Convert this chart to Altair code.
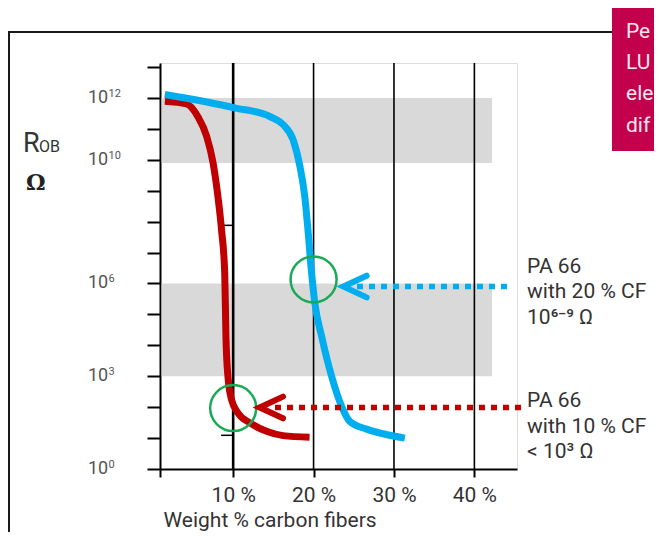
import altair as alt
import pandas as pd

# ---------------- data (x: weight % carbon fibers, e: log10 of R_OB in ohm) ----------------
red_x = [1.5, 4.2, 5.6, 6.7, 7.5, 8.1, 8.55, 8.95, 9.1, 9.35, 9.8, 10.6, 12.1, 14.15, 16.2, 19.5]
red_e = [11.89, 11.81, 11.40, 10.76, 9.90, 8.82, 7.74, 6.35, 4.29, 2.99, 2.24, 1.81, 1.49, 1.22, 1.08, 1.03]
blue_x = [1.5, 10.2, 14.55, 16.2, 17.45, 18.3, 18.9, 19.3, 19.75, 20.15, 21.0, 22.25, 23.5, 24.5, 26.6, 28.65, 31.35]
blue_e = [12.11, 11.68, 11.40, 11.14, 10.65, 9.79, 8.82, 7.74, 6.35, 5.38, 4.29, 2.99, 2.02, 1.54, 1.29, 1.14, 1.00]

band_x0 = 1.1
band_x1 = 42.2
band_lo = [9.9, 3.0]
band_hi = [12.0, 6.0]

grid_x = [10, 20, 30, 40]
x_tick_values = [0.9, 10, 20, 30, 40]
y_tick_values = list(range(0, 14))
y_label_e = [0, 3, 6, 10, 12]
y_label_sup = ["0", "3", "6", "10", "12"]

mini_e = [7.88, 1.09]
mini_x0 = 8.5
mini_x1 = 10.0

circle_x = [10, 20]
circle_e = [1.97, 6.13]

# arrows: [blue, red]
arrow_tip_x = [23.7, 13.3]
arrow_dot_start = [25.4, 15.2]
arrow_dot_end = [44.6, 46.0]
arrow_e = [5.9, 1.99]

note_x = 46.55
note_e = [6.34, 1.99]
note_blue = ["PA 66", "with 20 % CF", "10\u2076\u207b\u2079 \u03a9"]
note_red = ["PA 66", "with 10 % CF", "< 10\u00b3 \u03a9"]

box_lines = ["Pe", "LU", "ele", "dif"]
x_title = "Weight % carbon fibers"

RED = "#c00000"
BLUE = "#00aeef"
GREEN = "#1aaa55"
FONT = "Roboto"

# ---------------- scales / axes ----------------
xs = alt.Scale(domain=[0.9, 45.3], nice=False, zero=False)
ys = alt.Scale(domain=[0, 13.13], nice=False, zero=False)

x_axis = alt.Axis(values=x_tick_values,
                  labelExpr="datum.value < 5 ? '' : datum.value + ' %'",
                  tickSize=8, tickWidth=2, tickColor="black",
                  domainColor="black", domainWidth=2, grid=False,
                  labelFontSize=21, labelColor="#333", labelPadding=7, labelFont=FONT,
                  title=x_title, titleFontSize=21, titleFontWeight="normal", titleColor="#333",
                  titleFont=FONT, titleAnchor="start", titleAlign="left", titleX=3, titleY=57,
                  titleBaseline="alphabetic")
y_axis = alt.Axis(values=y_tick_values, labels=False, tickSize=13, tickWidth=2, tickColor="black",
                  domainColor="black", domainWidth=2, grid=False, title="")


def X(f):
    return alt.X(f"{f}:Q", scale=xs, axis=x_axis)


def Y(f):
    return alt.Y(f"{f}:Q", scale=ys, axis=y_axis)


one = alt.Data(values=[{"k": 0}])

layers = []

# gray bands
bands = pd.DataFrame({"x": [band_x0] * 2, "x2": [band_x1] * 2, "e": band_lo, "e2": band_hi})
layers.append(alt.Chart(bands).mark_rect(color="#d9d9d9").encode(x=X("x"), x2="x2", y=Y("e"), y2="e2"))

# vertical lines
grid = pd.DataFrame({"x": grid_x})
layers.append(alt.Chart(grid).mark_rule(color="black").encode(
    x=X("x"),
    strokeWidth=alt.condition("datum.x == 10", alt.value(2.6), alt.value(1.6))))

# small ticks beside the 10 % line
mini = pd.DataFrame({"x": [mini_x0] * 2, "x2": [mini_x1] * 2, "e": mini_e})
layers.append(alt.Chart(mini).mark_rule(color="black", strokeWidth=1.5).encode(x=X("x"), x2="x2", y=Y("e")))

# curves
red_df = pd.DataFrame({"x": red_x, "e": red_e})
blue_df = pd.DataFrame({"x": blue_x, "e": blue_e})
layers.append(alt.Chart(red_df).mark_line(color=RED, strokeWidth=7, interpolate="monotone", strokeCap="butt")
              .encode(x=X("x"), y=Y("e")))
layers.append(alt.Chart(blue_df).mark_line(color=BLUE, strokeWidth=7, interpolate="monotone", strokeCap="butt")
              .encode(x=X("x"), y=Y("e")))

# green circles
circ = pd.DataFrame({"x": circle_x, "e": circle_e})
layers.append(alt.Chart(circ).mark_point(shape="circle", filled=False, size=2116, strokeWidth=2.5, color=GREEN,
                                         opacity=1).encode(x=X("x"), y=Y("e")))

# dotted arrows
for i, col in enumerate([BLUE, RED]):
    dot = pd.DataFrame({"x": [arrow_dot_start[i]], "x2": [arrow_dot_end[i]], "e": [arrow_e[i]]})
    layers.append(alt.Chart(dot).mark_rule(color=col, strokeWidth=5.5, strokeDash=[6, 6], strokeCap="butt")
                  .encode(x=X("x"), x2="x2", y=Y("e")))
    tip_x, tip_e = arrow_tip_x[i], arrow_e[i]
    chev = pd.DataFrame({"x": [tip_x + 2.9, tip_x, tip_x + 2.9],
                         "e": [tip_e + 0.35, tip_e, tip_e - 0.35],
                         "o": [0, 1, 2]})
    layers.append(alt.Chart(chev).mark_line(color=col, strokeWidth=6, strokeCap="round", strokeJoin="miter")
                  .encode(x=X("x"), y=Y("e"), order="o:Q"))

# notes
for i, lines in enumerate([note_blue, note_red]):
    nd = pd.DataFrame({"x": [note_x], "e": [note_e[i]]})
    layers.append(alt.Chart(nd).mark_text(text=lines, align="left", baseline="alphabetic", fontSize=21,
                                          lineHeight=25.5, color="#333", font=FONT)
                  .encode(x=X("x"), y=Y("e")))

# y tick labels with superscripts
yl = pd.DataFrame({"e": y_label_e, "sup": y_label_sup})
layers.append(alt.Chart(yl).mark_text(text="10", align="left", baseline="middle", fontSize=18, color="#555",
                                      font=FONT).encode(x=alt.value(-72), y=Y("e")))
layers.append(alt.Chart(yl).mark_text(align="left", baseline="middle", fontSize=11, color="#555", dy=-4,
                                      font=FONT).encode(x=alt.value(-51.5), y=Y("e"), text="sup:N"))

# y axis title R_OB / Ohm
layers.append(alt.Chart(one).mark_text(text="R", align="left", baseline="alphabetic", fontSize=27,
                                       color="#333", font=FONT).encode(x=alt.value(-137), y=alt.value(88.7)))
layers.append(alt.Chart(one).mark_text(text="OB", align="left", baseline="alphabetic", fontSize=16,
                                       color="#333", font=FONT).encode(x=alt.value(-121), y=alt.value(88.7)))
layers.append(alt.Chart(one).mark_text(text="\u03a9", align="left", baseline="alphabetic", fontSize=22,
                                       fontWeight="bold", color="#222", font="DejaVu Serif")
              .encode(x=alt.value(-134), y=alt.value(127)))

# frame lines
layers.append(alt.Chart(one).mark_rule(color="#1a1a1a", strokeWidth=2)
              .encode(x=alt.value(-152), x2=alt.value(452), y=alt.value(-31)))
layers.append(alt.Chart(one).mark_rule(color="#1a1a1a", strokeWidth=2)
              .encode(x=alt.value(-151), y=alt.value(-31), y2=alt.value(490)))

# magenta box
layers.append(alt.Chart(one).mark_rect(color="#c2004b")
              .encode(x=alt.value(452), x2=alt.value(520), y=alt.value(-57), y2=alt.value(88)))
layers.append(alt.Chart(one).mark_text(text=box_lines, align="left", baseline="alphabetic", fontSize=21,
                                       lineHeight=31.3, color="#fbe6ee", font=FONT)
              .encode(x=alt.value(466), y=alt.value(-25.3)))

chart = alt.layer(*layers).properties(
    width=357, height=406,
    padding={"left": 152, "top": 55, "right": 137, "bottom": 63},
    autosize=alt.AutoSizeParams(type="none"),
).configure_view(stroke="transparent").configure(font=FONT)

chart.save("out.html", embed_options={"renderer": "svg", "actions": False})
